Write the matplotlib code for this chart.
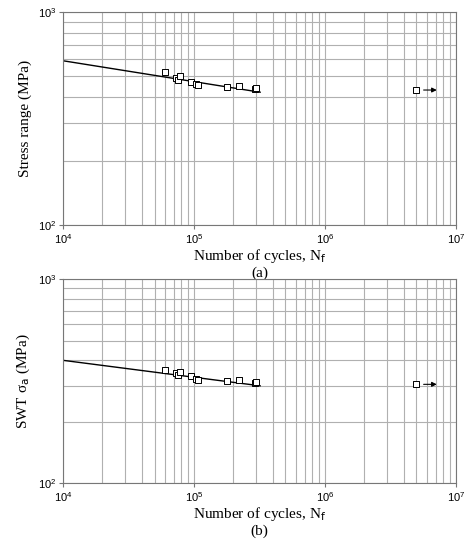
import numpy as np
import matplotlib
matplotlib.use('Agg')
import matplotlib.pyplot as plt

plt.rcParams['font.family'] = 'Liberation Serif'

# test data
cycles = [60e3, 73e3, 75e3, 78e3, 95e3, 103e3, 107e3, 180e3, 220e3, 295e3, 300e3]
stress = [520, 490, 480, 500, 470, 460, 455, 445, 450, 435, 440]
swt = [360, 345, 340, 350, 335, 325, 322, 318, 320, 310, 312]
runout_n = 5e6
runout_stress = 430
runout_swt = 305

# fitted lines
fit_n = [1e4, 3.2e5]
fit_stress = [590, 420]
fit_swt = [400, 300]

fig = plt.figure(figsize=(4.7, 5.41), dpi=100)
ax1 = fig.add_axes([0.134, 0.584, 0.836, 0.394])
ax2 = fig.add_axes([0.134, 0.107, 0.836, 0.377])

panels = [(ax1, stress, runout_stress, fit_stress, 'Stress range (MPa)', '(a)'),
          (ax2, swt, runout_swt, fit_swt, 'SWT σ$_\\mathrm{a}$ (MPa)', '(b)')]

for ax, vals, ro, fit, ylab, tag in panels:
    ax.set_xscale('log')
    ax.set_yscale('log')
    ax.set_xlim(1e4, 1e7)
    ax.set_ylim(100, 1000)
    ax.grid(True, which='both', color='#b0b0b0', lw=0.8)
    for s in ax.spines.values():
        s.set_color('#777777')
    ax.plot(fit_n, fit, color='black', lw=1)
    ax.scatter(cycles, vals, marker='s', facecolors='white', edgecolors='black', s=18, lw=0.7, zorder=3)
    ax.scatter([runout_n], [ro], marker='s', facecolors='white', edgecolors='black', s=18, lw=0.7, zorder=3)
    ax.annotate('', xy=(runout_n * 1.5, ro), xytext=(runout_n * 1.08, ro),
                arrowprops=dict(arrowstyle='-|>', color='black', lw=0.8, mutation_scale=7))
    ax.set_ylabel(ylab, fontsize=11)
    ax.set_xlabel('Number of cycles, N$_\\mathrm{f}$\n' + tag, fontsize=11, labelpad=1,
                  linespacing=1.1)
    ax.tick_params(which='major', labelsize=8, length=3, color='#777777', pad=2)
    ax.tick_params(which='minor', length=0)
    for lab in ax.get_xticklabels() + ax.get_yticklabels():
        lab.set_family('Liberation Sans')
    ax.yaxis.set_minor_formatter(matplotlib.ticker.NullFormatter())
    ax.xaxis.set_minor_formatter(matplotlib.ticker.NullFormatter())

fig.savefig('out.png', dpi=100)
